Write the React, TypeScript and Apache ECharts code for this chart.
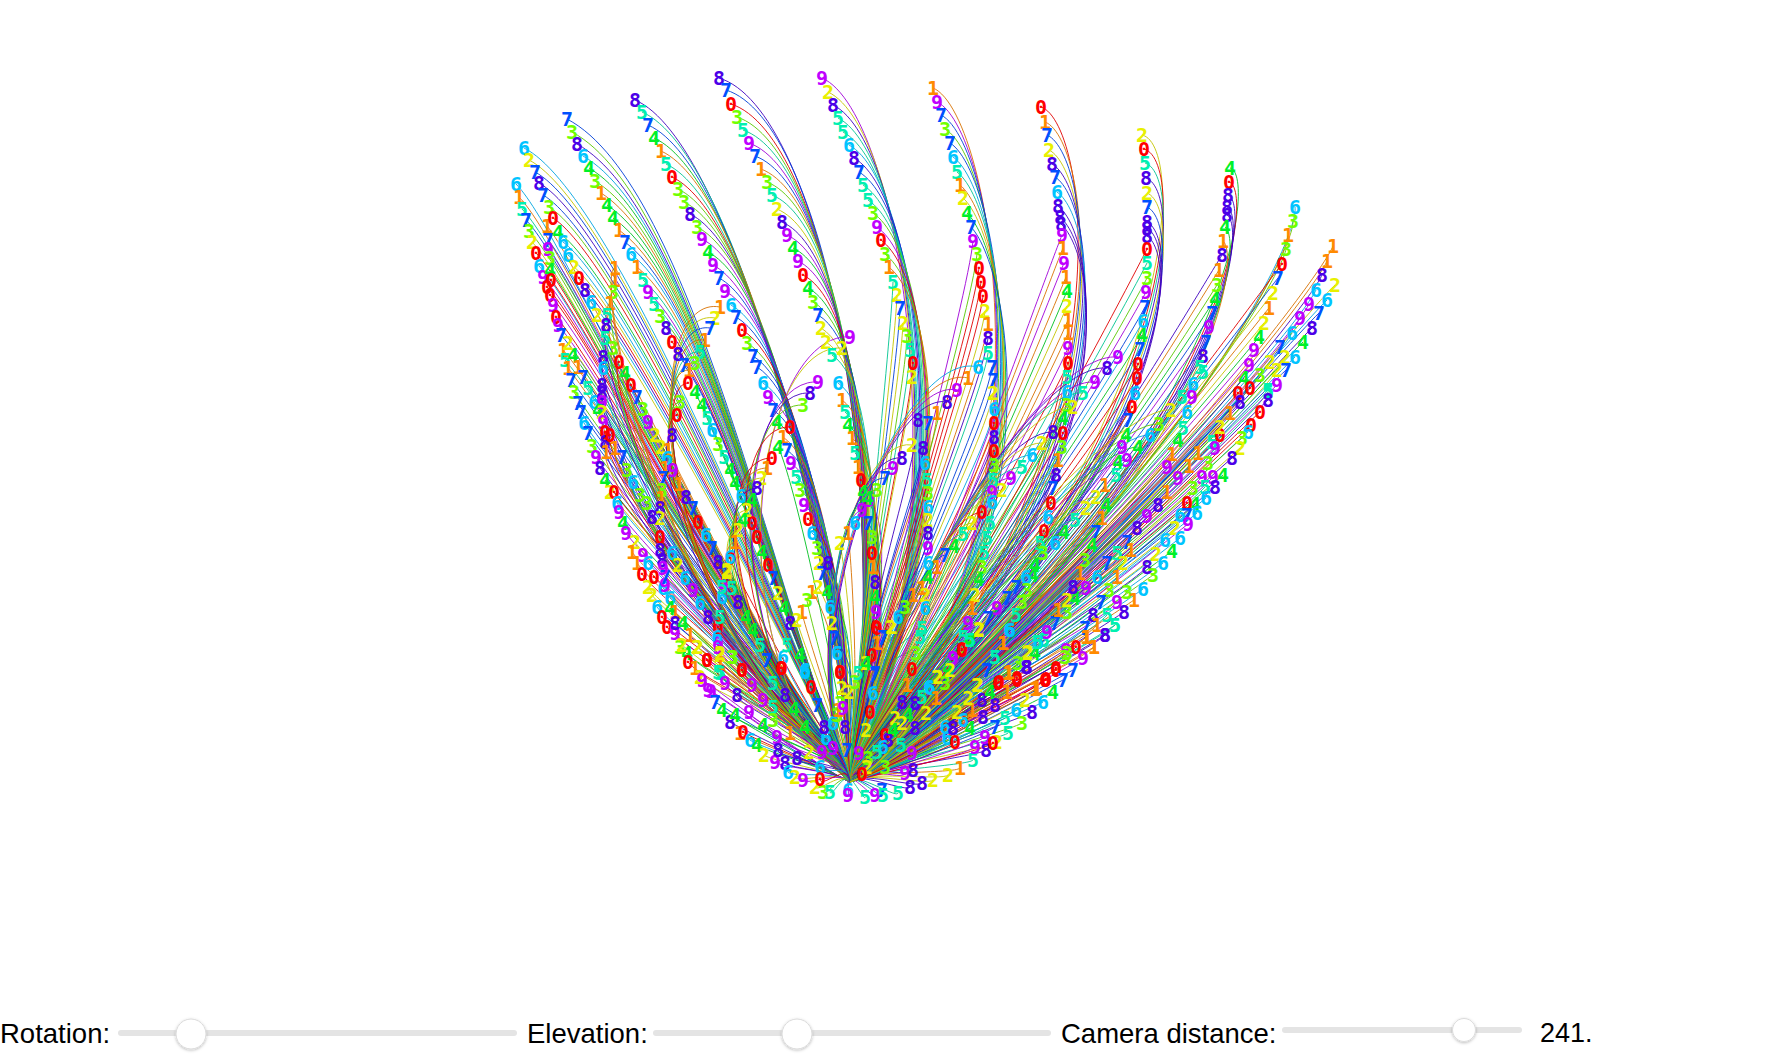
import React, { useEffect, useRef } from "react";
import * as echarts from "echarts";

type Leaf = number[];
const digitColors = ["#ff0000","#ff8a00","#e8f000","#70ff00","#00f028","#00f0b0","#00c4ff","#0050ff","#4c00e8","#c000ff"];
const lineColors = ["#e00000","#d87000","#c4c400","#58c800","#00c020","#00c490","#00a4e0","#0040d8","#4000c0","#a000d8"];
const rootPoint = [850, 782];

const frondATop: Leaf[] = [[6,524,148],[2,529,160],[7,535,172],[8,539,183],[7,543,195],[3,549,207],[0,553,218],[4,558,232],[6,563,242],[6,568,255],[2,574,267],[0,579,278],[8,585,290],[6,591,302],[2,597,315]];
const frondBTop: Leaf[] = [[6,516,184],[1,519,197],[5,522,209],[7,526,220],[3,529,231],[2,532,242],[0,536,253],[6,539,266],[9,543,277],[0,547,287],[0,550,295],[9,553,305],[0,556,317],[9,558,325],[7,561,335],[1,563,350],[5,565,360],[1,547,226],[7,548,240],[9,548,249],[3,550,258],[4,550,270],[0,551,280],[2,568,343],[4,573,355],[1,568,368],[7,571,380],[1,578,367],[7,583,377],[5,588,388],[6,594,402],[4,598,410]];
const frondBLow: Leaf[] = [[3,574,392],[7,578,403],[7,581,412],[6,584,423],[7,588,433],[3,592,446],[9,596,457],[8,600,468],[4,605,480],[2,610,492],[0,614,492],[6,617,503],[9,619,512],[4,623,523],[9,626,533],[2,635,542],[1,632,552],[1,637,563],[0,642,574],[2,648,587],[2,652,595],[6,657,607],[0,662,617],[0,667,627],[9,675,633],[3,680,647],[4,687,653],[0,688,662],[1,695,668],[2,700,677],[2,698,647],[0,707,660],[9,643,555],[6,648,563],[0,654,577],[6,663,588],[9,665,585],[7,665,577],[6,670,598],[4,670,608],[1,675,612],[8,675,623],[4,683,623],[2,682,645],[1,690,635],[2,697,647]];
const envelopeBottom: Leaf[] = [[9,702,680],[9,708,690],[9,711,691],[7,715,702],[4,722,710],[8,730,722],[1,740,733],[0,743,732],[6,750,740],[4,757,745],[2,764,755],[9,775,762],[8,785,763],[6,788,772],[2,795,777],[9,803,780],[2,815,787],[3,823,792],[5,830,792],[6,848,790],[9,848,795],[5,865,797],[9,875,795],[7,882,790],[5,883,795],[5,898,793],[8,910,787],[8,922,783],[2,933,780],[2,948,775],[1,960,768],[5,973,760],[8,986,750],[2,997,742],[5,1008,733],[3,1022,723],[8,1032,712],[6,1043,702],[0,1045,680],[0,1056,670],[9,718,643],[8,737,695],[4,735,715],[2,809,752],[8,797,758],[3,840,703]];
const frondC: Leaf[] = [[7,567,119],[3,572,132],[8,577,144],[6,583,156],[4,589,168],[3,595,181],[1,601,193],[4,607,205],[4,613,218],[1,619,230],[7,625,242],[6,631,254],[1,637,267],[5,643,280],[9,648,292],[5,654,304],[3,660,316],[8,666,328],[0,672,342],[8,678,354],[7,684,365]];
const frondCLow: Leaf[] = [[4,695,392],[4,702,405],[5,707,418],[6,712,430],[3,718,444],[5,724,457],[4,730,470],[4,735,483],[6,741,496],[0,752,523],[0,757,537],[4,762,552],[0,768,565],[7,773,578],[2,778,593],[4,784,608],[5,787,645]];
const frondD: Leaf[] = [[8,635,100],[5,642,112],[7,648,125],[4,654,138],[1,661,151],[5,666,164],[0,672,177],[3,678,189],[3,684,202],[8,690,214],[3,697,227],[9,702,239],[4,708,252],[9,713,265],[7,719,278],[9,725,291],[6,731,305],[7,736,317],[0,742,330],[3,747,343],[7,753,356],[7,757,367],[6,763,383],[9,768,397],[7,773,410],[4,777,422],[1,783,437],[7,787,450],[9,791,463],[5,796,477],[3,800,490],[9,804,505],[0,808,519],[6,812,533],[3,817,548],[2,819,563],[4,827,592],[6,830,607],[2,832,623],[7,834,638],[6,837,653],[0,840,672],[1,812,592],[2,818,587],[7,822,573],[8,828,563],[4,778,447]];
const frondE: Leaf[] = [[8,719,78],[7,726,90],[0,731,104],[3,737,117],[5,743,130],[9,749,143],[7,755,156],[1,761,169],[3,767,182],[5,772,195],[2,777,209],[8,782,222],[9,787,235],[4,793,248],[9,798,261],[0,803,275],[4,808,288],[3,813,302],[7,818,315],[2,821,328],[2,826,342],[5,832,355],[6,838,383],[1,842,400],[5,845,412],[4,848,425],[1,852,438],[5,855,453],[1,858,467],[0,861,480],[4,863,492],[9,869,500],[7,868,523],[3,872,537],[0,872,553],[1,873,567],[8,875,582],[4,875,597],[9,876,612],[0,876,627],[1,877,643],[2,840,543],[1,848,533]];
const frondF: Leaf[] = [[9,822,78],[2,828,92],[8,833,105],[5,838,118],[5,843,132],[6,849,145],[8,854,158],[7,859,172],[5,863,185],[5,868,200],[3,873,213],[9,877,227],[0,881,240],[3,885,254],[1,889,267]];
const frondFLow: Leaf[] = [[5,893,282],[2,897,295],[7,900,308],[2,903,323],[3,907,336],[5,910,350],[0,913,363],[2,912,377],[8,918,420],[1,937,413],[7,928,423],[8,923,448],[6,925,463],[5,927,480],[3,928,493],[6,928,507],[2,928,520],[8,928,533],[9,928,548],[4,928,577],[1,922,588],[2,925,595],[6,925,608],[5,922,628]];
const frondG: Leaf[] = [[1,933,88],[9,937,102],[7,941,115],[3,945,129],[7,950,143],[6,953,157],[5,957,172],[1,960,185],[2,963,198],[4,967,213],[7,971,227]];
const frondGLow: Leaf[] = [[9,973,241],[3,977,254],[0,979,268],[0,981,282],[0,983,296],[2,985,311],[1,988,324],[8,988,338],[5,988,353],[7,992,367],[7,993,380],[2,993,393],[6,994,409],[0,994,423],[8,994,437],[0,994,451],[3,994,465],[5,993,480],[9,992,492],[6,992,502],[5,990,523],[5,987,538],[5,984,553],[3,982,567],[4,979,579],[2,975,595],[1,972,608],[9,968,623],[5,963,637],[0,962,650],[9,953,658],[2,937,677],[6,929,687],[7,988,618],[9,997,608],[7,1007,598],[7,1016,587],[2,979,629],[4,970,640],[4,948,668]];
const frondH: Leaf[] = [[0,1041,107],[1,1045,122],[7,1047,135],[2,1049,150],[8,1052,164],[7,1055,177],[6,1057,192],[8,1058,206],[8,1060,217],[8,1061,224]];
const frondHLow: Leaf[] = [[9,1062,235],[1,1063,248],[9,1064,263],[1,1066,277],[4,1067,291],[2,1067,306],[1,1068,320],[1,1068,333],[9,1068,348],[0,1068,363],[5,1067,377],[6,1067,392],[3,1067,405],[4,1063,418],[0,1063,433],[3,1062,447],[1,1058,460],[8,1056,475],[7,1053,488],[0,1051,503],[6,1048,517],[0,1044,531],[5,1040,543],[5,1043,553],[4,1035,565],[4,1033,575],[6,1026,577],[3,1027,590],[3,1022,602],[5,1016,615],[6,1009,630],[1,1003,643],[5,995,657],[7,987,670],[2,977,685],[0,998,683],[1,1008,673],[0,1017,678],[2,1027,653]];
const frondI: Leaf[] = [[2,1142,135],[0,1144,149],[5,1145,163],[8,1146,178],[2,1147,193],[7,1147,207],[8,1147,222],[8,1147,228],[8,1147,236]];
const frondILow: Leaf[] = [[0,1147,249],[5,1147,263],[3,1147,278],[9,1146,292],[7,1145,307],[6,1143,321],[4,1142,335],[7,1140,349],[0,1138,364],[0,1137,378],[6,1135,393],[0,1132,407],[7,1128,420],[4,1126,435],[9,1122,447],[4,1118,462],[5,1116,475],[1,1105,485],[4,1106,505],[1,1102,518],[7,1096,532],[4,1092,545],[3,1085,560],[1,1080,573],[4,1075,598],[3,1067,612],[7,1055,623],[4,1035,653],[3,1018,663],[8,1027,667],[2,1067,600],[1,1058,610],[5,1044,640],[9,1066,650]];
const frondJ: Leaf[] = [[4,1230,168],[0,1229,182],[8,1228,195],[8,1227,207],[8,1227,215],[4,1225,227],[1,1223,241]];
const frondJLow: Leaf[] = [[8,1222,255],[1,1219,270],[3,1217,285],[4,1215,299],[7,1212,313],[9,1209,327],[7,1206,342],[8,1203,356],[5,1200,367],[5,1203,372],[6,1193,384],[9,1192,397],[5,1182,397],[6,1187,412],[5,1183,428],[4,1178,440],[1,1172,454],[9,1167,467],[9,1178,478],[1,1167,492],[8,1158,505],[9,1147,516],[8,1137,528],[7,1127,542],[1,1131,550],[5,1117,553],[2,1123,563],[7,1107,563],[1,1117,577],[6,1097,577],[9,1086,588],[8,1073,587],[3,1109,590],[9,1117,602],[3,1127,592],[7,1101,602],[5,1107,615],[8,1093,615],[1,1097,625],[7,1085,628],[1,1086,637],[9,1047,632],[6,1038,642],[0,1076,647],[3,1065,657],[0,1056,668],[0,1046,679],[1,1035,689],[1,1094,647],[8,1105,635],[5,1115,625]];
const frondK: Leaf[] = [[6,1295,207],[3,1293,221],[1,1288,235],[3,1286,249]];
const frondKLow: Leaf[] = [[0,1282,264],[7,1278,278],[2,1273,293],[1,1269,308],[2,1264,323],[4,1259,337],[9,1254,350],[9,1249,365],[3,1260,375],[4,1244,378],[0,1250,388],[0,1238,393],[8,1240,402],[1,1230,413],[5,1268,390],[5,1212,442],[0,1220,435],[9,1215,448],[2,1220,427],[3,1208,463],[1,1198,453],[1,1189,466],[9,1202,477],[9,1213,477],[3,1193,488],[5,1205,487],[4,1195,504],[0,1187,503],[6,1180,515],[7,1187,515],[2,1175,528],[6,1165,540],[2,1156,554],[8,1147,567]];
const frondLTop: Leaf[] = [[1,1333,246],[1,1327,261],[8,1322,275],[6,1316,290],[9,1309,304],[9,1300,318],[6,1292,333],[7,1280,347],[2,1270,362],[2,1277,370],[5,1268,392],[2,1285,357]];
const envelopeRight: Leaf[] = [[2,1335,285],[6,1327,300],[7,1319,313],[8,1312,328],[4,1303,342],[6,1295,357],[7,1286,370],[9,1277,385],[8,1268,400],[0,1260,412],[0,1251,425],[6,1248,432],[3,1242,438],[2,1240,448],[8,1232,458],[4,1223,475],[8,1215,487],[6,1206,498],[6,1197,513],[9,1188,524],[6,1180,538],[4,1172,551],[6,1163,563],[3,1153,575],[6,1143,589],[1,1134,600],[8,1124,612],[5,1115,625],[8,1105,635],[1,1094,647],[9,1083,658],[7,1073,670],[7,1063,680],[4,1053,692]];
const leftArcA: Leaf[] = [[1,615,268],[1,615,280],[3,613,292],[1,610,303],[5,607,315],[8,606,325],[5,605,338],[3,613,348],[0,619,362],[8,603,357],[6,603,368],[8,602,385],[8,602,393],[9,602,402],[2,602,412],[9,603,422],[0,605,432],[8,605,442],[1,606,452],[0,610,435],[1,615,448],[7,622,457],[3,627,470],[6,633,482],[3,640,495],[3,647,503]];
const leftMid: Leaf[] = [[4,625,373],[0,631,385],[7,637,397],[3,643,409],[9,648,422],[2,655,435],[2,661,447],[1,668,450],[6,667,458],[1,665,468],[9,673,470],[7,663,478],[1,679,484],[3,662,490],[8,686,497],[1,661,498],[7,693,508],[8,660,508],[0,698,522],[2,660,518],[6,706,535],[0,660,537],[7,712,548],[8,660,550],[8,718,562],[8,662,560],[9,663,568]];
const leftLow: Leaf[] = [[8,652,517],[6,672,553],[2,678,565],[6,685,578],[9,693,590],[6,700,603],[8,708,617],[0,718,627],[6,717,637],[9,718,647],[2,720,655],[3,732,657],[0,707,660],[0,742,670],[1,720,663],[5,720,673],[5,720,617],[6,722,597],[9,723,587],[2,727,572],[0,730,558],[8,738,602],[5,732,588],[4,746,617],[4,753,630],[5,760,645],[7,767,660],[6,783,657],[0,781,668],[6,805,672],[0,811,687],[7,817,705]];
const subArcOne: Leaf[] = [[1,720,307],[2,715,318],[7,710,328],[1,705,340],[5,700,352],[3,695,363],[1,689,370],[0,688,383],[3,680,402],[0,677,415],[8,672,435]];
const subArcTwo: Leaf[] = [[9,850,337],[2,842,348],[9,818,382],[8,810,393],[3,803,405],[0,790,427],[0,772,458],[1,767,468],[2,762,478],[8,757,488],[4,752,500],[2,747,510],[4,743,520],[2,738,530],[1,735,542],[6,730,557],[2,727,570],[5,722,587]];
const subArcThree: Leaf[] = [[6,978,367],[1,968,378],[9,957,390],[8,947,402],[2,912,445],[8,902,458],[9,893,468],[7,885,478],[3,877,490],[4,868,498],[9,862,510],[6,855,523]];
const subArcFour: Leaf[] = [[9,1118,357],[8,1107,368],[9,1095,382],[5,1083,393],[2,1073,407],[8,1053,432],[2,1042,443],[6,1032,455],[5,1022,467],[9,1011,478],[2,1002,490],[0,982,512],[2,972,523],[5,963,534],[4,954,546],[7,945,555],[1,937,567],[6,928,563]];
const subArcFive: Leaf[] = [[2,1171,410],[3,1159,424],[6,1150,435],[4,1138,447],[9,1127,460],[2,1096,497],[2,1086,508],[5,1075,520],[4,1064,532],[6,1055,543],[3,1043,553]];
const centerFan: Leaf[] = [[4,794,709],[4,805,727],[1,790,733],[9,763,700],[9,749,712],[9,752,685],[0,742,670],[3,733,657],[2,720,653],[5,718,672],[9,725,683],[5,773,683],[5,773,707],[3,773,720],[4,763,725],[9,777,737],[8,778,750],[8,785,695],[6,820,767],[0,820,779],[9,822,752],[6,826,738],[9,833,748],[8,824,727],[6,833,723],[8,845,727],[7,847,750],[9,859,753],[3,837,715],[1,838,710],[9,843,708],[2,842,688],[2,849,692],[3,855,682],[6,837,653],[0,840,672],[0,872,655],[7,883,638],[2,892,627],[0,877,628],[7,874,675],[6,873,693],[0,870,712],[2,866,730],[0,885,735],[8,888,740],[5,901,745],[6,883,747],[5,877,752],[3,868,758],[2,867,767],[0,862,774],[3,885,767],[9,905,773],[8,913,770],[9,912,753],[8,915,728],[8,902,702],[8,915,703],[4,908,715],[2,926,713],[2,895,718],[2,902,723],[4,893,730],[5,922,697],[6,930,688],[1,936,698],[1,907,685],[0,912,669],[3,916,653],[5,920,637],[2,866,663],[7,875,673],[4,866,663],[5,858,673],[7,883,637],[2,891,627],[6,898,617],[3,905,607],[1,913,595],[3,807,600],[1,802,612],[8,790,623],[2,797,620],[4,800,655],[6,805,670],[0,782,668],[7,767,660]];
const rightFan: Leaf[] = [[6,963,720],[6,945,727],[6,947,738],[0,955,742],[8,953,728],[4,970,728],[9,975,747],[9,985,737],[0,993,743],[2,957,712],[1,972,710],[2,968,698],[8,982,700],[8,983,717],[8,995,705],[7,995,727],[5,1005,718],[6,1016,710],[2,1025,700],[1,1007,692],[4,990,692],[2,978,685],[0,999,682],[0,1017,680],[1,1009,672],[8,1026,667],[2,1028,652],[5,1037,642],[1,1037,688],[0,1046,680],[3,1067,653],[1,1087,637],[7,987,670],[5,995,657],[1,1003,643],[6,1010,630],[9,953,658],[0,962,649],[5,970,640],[2,979,630],[2,938,677],[3,945,683],[2,950,670]];

type Group = { leaves: Leaf[]; a0: number[]; a1: number[]; b0: number[]; b1: number[] };
const groups: Group[] = [
  { leaves: frondBTop, a0: [50, 50], a1: [25, 35], b0: [730, 620], b1: [770, 660] },
  { leaves: frondBLow, a0: [25, 40], a1: [15, 12], b0: [770, 660], b1: [810, 745] },
  { leaves: envelopeBottom, a0: [12, 6], a1: [-12, 6], b0: [820, 770], b1: [880, 770] },
  { leaves: frondATop, a0: [86, 42], a1: [35, 40], b0: [775, 590], b1: [780, 620] },
  { leaves: leftArcA, a0: [-20, 0], a1: [-8, 25], b0: [650, 610], b1: [760, 680] },
  { leaves: leftMid, a0: [20, 40], a1: [15, 30], b0: [760, 640], b1: [810, 720] },
  { leaves: leftLow, a0: [14, 30], a1: [6, 25], b0: [810, 720], b1: [840, 750] },
  { leaves: frondC, a0: [125, 65], a1: [45, 60], b0: [775, 600], b1: [785, 625] },
  { leaves: frondCLow, a0: [28, 55], a1: [12, 35], b0: [795, 640], b1: [830, 720] },
  { leaves: frondD, a0: [95, 40], a1: [18, 35], b0: [835, 540], b1: [848, 730] },
  { leaves: frondE, a0: [100, 30], a1: [5, 40], b0: [895, 480], b1: [860, 720] },
  { leaves: frondF, a0: [80, 35], a1: [55, 45], b0: [965, 520], b1: [955, 560] },
  { leaves: frondFLow, a0: [-2, 60], a1: [-4, 50], b0: [862, 600], b1: [862, 620] },
  { leaves: frondG, a0: [62, 25], a1: [42, 45], b0: [1065, 540], b1: [1060, 560] },
  { leaves: frondGLow, a0: [-5, 55], a1: [-10, 30], b0: [885, 600], b1: [870, 730] },
  { leaves: frondH, a0: [48, 15], a1: [38, 35], b0: [1140, 450], b1: [1135, 480] },
  { leaves: frondHLow, a0: [-20, 50], a1: [-15, 25], b0: [930, 600], b1: [880, 750] },
  { leaves: frondI, a0: [46, 10], a1: [34, 22], b0: [1182, 440], b1: [1172, 470] },
  { leaves: frondILow, a0: [-25, 50], a1: [-18, 22], b0: [950, 620], b1: [890, 745] },
  { leaves: frondJ, a0: [28, 5], a1: [18, 15], b0: [1235, 430], b1: [1222, 460] },
  { leaves: frondJLow, a0: [-28, 45], a1: [-18, 18], b0: [1000, 630], b1: [900, 745] },
  { leaves: frondK, a0: [5, 33], a1: [-5, 30], b0: [1180, 480], b1: [1150, 500] },
  { leaves: frondKLow, a0: [-30, 38], a1: [-25, 26], b0: [1040, 600], b1: [960, 690] },
  { leaves: frondLTop, a0: [-13, 34], a1: [-20, 30], b0: [1100, 560], b1: [1060, 600] },
  { leaves: envelopeRight, a0: [-35, 34], a1: [-16, 8], b0: [1080, 590], b1: [900, 770] },
  { leaves: subArcOne, a0: [-80, -15], a1: [-22, 8], b0: [640, 600], b1: [690, 620] },
  { leaves: subArcTwo, a0: [-90, -7], a1: [-18, 12], b0: [705, 640], b1: [770, 690] },
  { leaves: subArcThree, a0: [-78, -20], a1: [-25, 8], b0: [780, 640], b1: [820, 700] },
  { leaves: subArcFour, a0: [-78, -7], a1: [-25, 8], b0: [880, 620], b1: [860, 730] },
  { leaves: subArcFive, a0: [-60, -5], a1: [-28, 6], b0: [900, 650], b1: [870, 730] },
  { leaves: centerFan, a0: [0, 12], a1: [0, 8], b0: [850, 760], b1: [850, 760] },
  { leaves: rightFan, a0: [-14, 10], a1: [-12, 8], b0: [890, 770], b1: [890, 770] },
];

const sliderLabels = ["Rotation:", "Elevation:", "Camera distance:", "241."];
const labelX = [0, 527, 1061, 1540];
const labelSize = [27.5, 27.5, 27.5, 27];
const tracks = [[118, 517, 1033], [653, 1051, 1033], [1282, 1522, 1030]];
const thumbs = [[191, 1034, 15], [797, 1034, 15], [1464, 1030, 11.5]];

const lerp = (p: number, q: number, t: number) => p + (q - p) * t;
const rows: number[][] = [];
groups.forEach((g) => {
  g.leaves.forEach((l, i) => {
    const t = g.leaves.length > 1 ? i / (g.leaves.length - 1) : 0;
    rows.push([l[0], l[1], l[2], l[1] + lerp(g.a0[0], g.a1[0], t), l[2] + lerp(g.a0[1], g.a1[1], t), lerp(g.b0[0], g.b1[0], t), lerp(g.b0[1], g.b1[1], t)]);
  });
});

export default function App() {
  const ref = useRef<HTMLDivElement>(null);
  useEffect(() => {
    const chart = echarts.init(ref.current!, undefined, { renderer: "svg" });
    const graphic: any[] = [];
    tracks.forEach((t) => graphic.push({ type: "rect", silent: true, z: 10, shape: { x: t[0], y: t[2] - 3, width: t[1] - t[0], height: 6, r: 3 }, style: { fill: "#e4e4e4" } }));
    thumbs.forEach((t) => graphic.push({ type: "circle", silent: true, z: 11, shape: { cx: t[0], cy: t[1], r: t[2] }, style: { fill: "#ffffff", stroke: "#dcdcdc", lineWidth: 1, shadowBlur: 3, shadowOffsetY: 1, shadowColor: "rgba(0,0,0,0.25)" } }));
    sliderLabels.forEach((s, i) => graphic.push({ type: "text", silent: true, z: 11, x: labelX[i], y: 1033, style: { text: s, fill: "#000000", font: `${labelSize[i]}px "Liberation Sans"`, textAlign: "left", textVerticalAlign: "middle" } }));
    chart.setOption({
      animation: false,
      backgroundColor: "#ffffff",
      grid: { left: 0, right: 0, top: 0, bottom: 0 },
      xAxis: { type: "value", min: 0, max: 1780, show: false },
      yAxis: { type: "value", min: 0, max: 1060, inverse: true, show: false },
      graphic,
      series: [
        {
          type: "custom",
          coordinateSystem: "cartesian2d",
          silent: true,
          clip: false,
          z: 2,
          data: rows,
          encode: { x: 1, y: 2 },
          renderItem: (_p: any, api: any) => {
            const p0 = api.coord([rootPoint[0], rootPoint[1]]);
            const p1 = api.coord([api.value(5), api.value(6)]);
            const p2 = api.coord([api.value(3), api.value(4)]);
            const p3 = api.coord([api.value(1), api.value(2)]);
            return {
              type: "bezierCurve",
              shape: { x1: p0[0], y1: p0[1], cpx1: p1[0], cpy1: p1[1], cpx2: p2[0], cpy2: p2[1], x2: p3[0], y2: p3[1] },
              style: { stroke: lineColors[api.value(0)], fill: null, lineWidth: 0.9 },
            };
          },
        },
        {
          type: "custom",
          coordinateSystem: "cartesian2d",
          silent: true,
          clip: false,
          z: 3,
          data: rows,
          encode: { x: 1, y: 2 },
          renderItem: (_p: any, api: any) => {
            const p = api.coord([api.value(1), api.value(2)]);
            const d = api.value(0);
            return {
              type: "text",
              x: p[0],
              y: p[1],
              style: { text: String(d), fill: digitColors[d], font: 'bold 20px "DejaVu Sans Mono"', textAlign: "center", textVerticalAlign: "middle" },
            };
          },
        },
      ],
    });
    return () => chart.dispose();
  }, []);
  return <div ref={ref} style={{ position: "absolute", left: 0, top: 0, width: 1780, height: 1060 }} />;
}
